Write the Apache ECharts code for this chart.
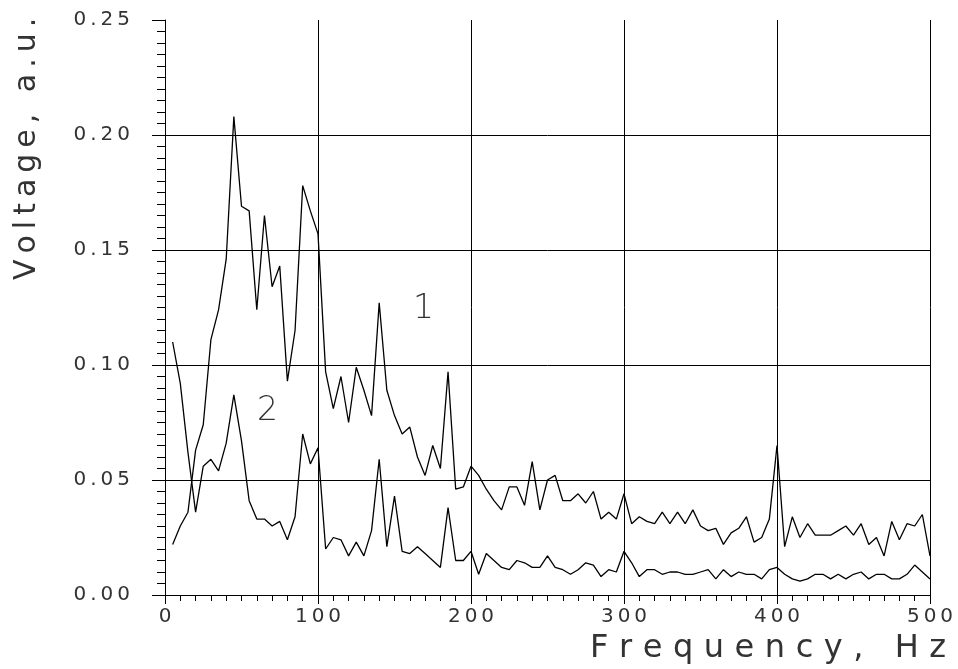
<!DOCTYPE html>
<html>
<head>
<meta charset="utf-8">
<title>Voltage spectrum</title>
<script src="https://cdn.jsdelivr.net/npm/echarts@6/dist/echarts.min.js"></script>
<style>
    html, body { margin: 0; padding: 0; background: #ffffff; }
    #chart { width: 958px; height: 669px; }
</style>
</head>
<body>
<div id="chart"></div>
<script>
// frequencies, Hz
const freq = [
    5, 10, 15, 20, 25, 30, 35, 40, 45, 50, 55, 60, 65, 70, 75, 80, 85, 90, 95, 100,
    105, 110, 115, 120, 125, 130, 135, 140, 145, 150, 155, 160, 165, 170, 175, 180, 185, 190, 195, 200,
    205, 210, 215, 220, 225, 230, 235, 240, 245, 250, 255, 260, 265, 270, 275, 280, 285, 290, 295, 300,
    305, 310, 315, 320, 325, 330, 335, 340, 345, 350, 355, 360, 365, 370, 375, 380, 385, 390, 395, 400,
    405, 410, 415, 420, 425, 430, 435, 440, 445, 450, 455, 460, 465, 470, 475, 480, 485, 490, 495, 500
];

// upper curve (labelled 1)
const curve1 = [
    0.022, 0.030, 0.036, 0.063, 0.074, 0.111, 0.124, 0.146, 0.208, 0.169,
    0.167, 0.124, 0.165, 0.134, 0.143, 0.093, 0.115, 0.178, 0.167, 0.157,
    0.097, 0.081, 0.095, 0.075, 0.099, 0.089, 0.078, 0.127, 0.089, 0.078,
    0.070, 0.073, 0.060, 0.052, 0.065, 0.055, 0.097, 0.046, 0.047, 0.056,
    0.052, 0.046, 0.041, 0.037, 0.047, 0.047, 0.039, 0.058, 0.037, 0.050,
    0.052, 0.041, 0.041, 0.044, 0.040, 0.045, 0.033, 0.036, 0.033, 0.044,
    0.031, 0.034, 0.032, 0.031, 0.036, 0.031, 0.036, 0.031, 0.037, 0.030,
    0.028, 0.029, 0.022, 0.027, 0.029, 0.034, 0.023, 0.025, 0.033, 0.065,
    0.021, 0.034, 0.025, 0.031, 0.026, 0.026, 0.026, 0.028, 0.030, 0.026,
    0.031, 0.022, 0.025, 0.017, 0.032, 0.024, 0.031, 0.030, 0.035, 0.017
];

// lower curve (labelled 2)
const curve2 = [
    0.110, 0.092, 0.062, 0.036, 0.056, 0.059, 0.054, 0.066, 0.087, 0.067,
    0.041, 0.033, 0.033, 0.030, 0.032, 0.024, 0.034, 0.070, 0.057, 0.064,
    0.020, 0.025, 0.024, 0.017, 0.023, 0.017, 0.028, 0.059, 0.021, 0.043,
    0.019, 0.018, 0.021, 0.018, 0.015, 0.012, 0.038, 0.015, 0.015, 0.019,
    0.009, 0.018, 0.015, 0.012, 0.011, 0.015, 0.014, 0.012, 0.012, 0.017,
    0.012, 0.011, 0.009, 0.011, 0.014, 0.013, 0.008, 0.011, 0.010, 0.019,
    0.014, 0.008, 0.011, 0.011, 0.009, 0.010, 0.010, 0.009, 0.009, 0.010,
    0.011, 0.007, 0.011, 0.008, 0.010, 0.009, 0.009, 0.007, 0.011, 0.012,
    0.009, 0.007, 0.006, 0.007, 0.009, 0.009, 0.007, 0.009, 0.007, 0.009,
    0.010, 0.007, 0.009, 0.009, 0.007, 0.007, 0.009, 0.013, 0.010, 0.007
];

// curve numbers and where they sit (data coords)
const curveNames = ['1', '2'];
const nameFreq = [169, 67];
const nameVolt = [0.124, 0.080];

const FONT = '"DejaVu Sans", sans-serif';

// spread characters like the plotter font
function spread(s, gap) {
    return s.split('').join(gap);
}

const chart = echarts.init(document.getElementById('chart'));

function makeSeries(values, idx) {
    return {
        type: 'line',
        data: freq.map((f, i) => [f, values[i]]),
        showSymbol: false,
        lineStyle: { color: '#000', width: 1.3 },
        silent: true,
        markPoint: {
            symbol: 'circle',
            symbolSize: 1,
            itemStyle: { color: 'rgba(0,0,0,0)' },
            label: {
                show: true,
                position: 'inside',
                formatter: '{b}',
                fontFamily: FONT,
                fontWeight: 'lighter',
                fontSize: 33,
                color: '#333'
            },
            data: [{ name: curveNames[idx], coord: [nameFreq[idx], nameVolt[idx]] }]
        }
    };
}

chart.setOption({
    animation: false,
    backgroundColor: '#ffffff',
    grid: { left: 165, right: 28, top: 20, bottom: 74 },
    xAxis: {
        type: 'value',
        min: 0,
        max: 500,
        interval: 100,
        axisLine: { show: true, onZero: false, lineStyle: { color: '#000', width: 1 } },
        axisTick: { show: true, length: 9, lineStyle: { color: '#000' } },
        minorTick: { show: true, splitNumber: 10, length: 6, lineStyle: { color: '#000' } },
        splitLine: { show: true, lineStyle: { color: '#000', width: 1 } },
        axisLabel: {
            margin: 12,
            fontFamily: FONT,
            fontSize: 20,
            color: '#333',
            formatter: v => spread(String(v), '\u2009')
        }
    },
    yAxis: {
        type: 'value',
        min: 0,
        max: 0.25,
        interval: 0.05,
        axisLine: { show: true, lineStyle: { color: '#000', width: 1 } },
        axisTick: { show: true, length: 13, lineStyle: { color: '#000' } },
        minorTick: { show: true, splitNumber: 10, length: 8, lineStyle: { color: '#000' } },
        splitLine: { show: true, showMaxLine: false, lineStyle: { color: '#000', width: 1 } },
        axisLabel: {
            margin: 35,
            fontFamily: FONT,
            fontSize: 20,
            color: '#333',
            formatter: v => spread(v.toFixed(2), '\u2009')
        }
    },
    graphic: [
        {
            type: 'text',
            left: 590,
            top: 633,
            style: {
                text: spread('Frequency, Hz', '\u2004'),
                font: '32px ' + FONT,
                fill: '#333'
            }
        },
        {
            type: 'text',
            x: 12,
            y: 280,
            rotation: Math.PI / 2,
            style: {
                text: spread('Voltage, a.u.', '\u2009'),
                font: '30px ' + FONT,
                fill: '#333'
            }
        }
    ],
    series: [makeSeries(curve1, 0), makeSeries(curve2, 1)]
});
</script>
</body>
</html>
